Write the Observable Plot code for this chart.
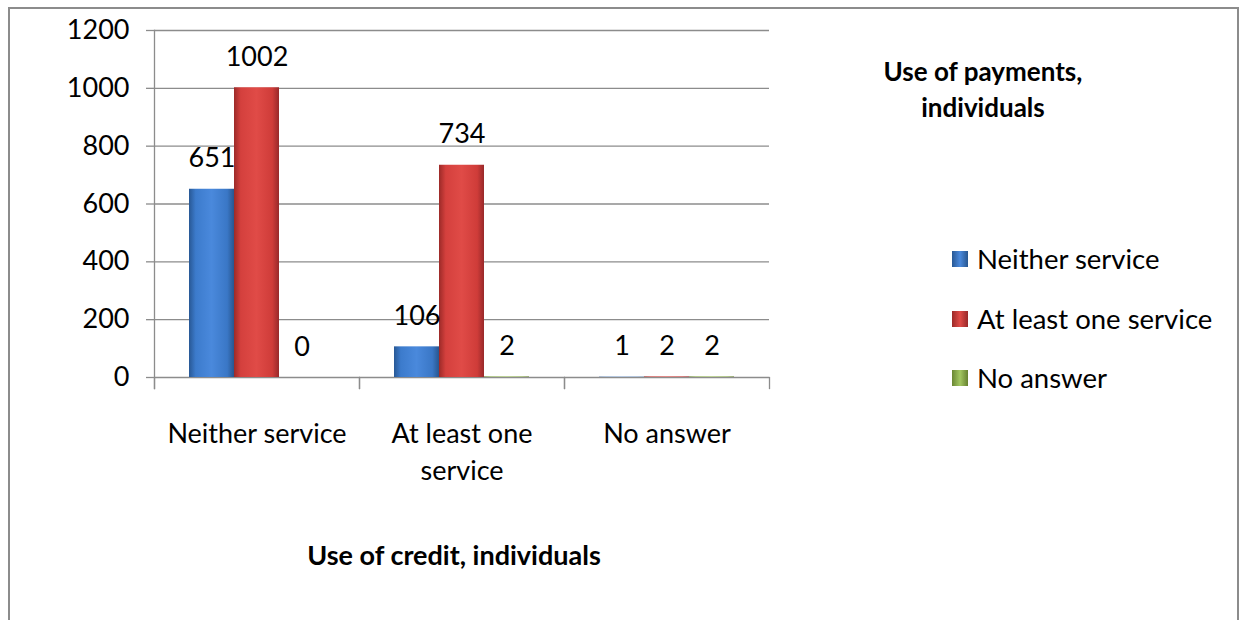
<!DOCTYPE html>
<html><head><meta charset="utf-8">
<script src="https://cdn.jsdelivr.net/npm/d3@7"></script>
<script src="https://cdn.jsdelivr.net/npm/@observablehq/plot@0.6"></script>
<style>
html,body{margin:0;padding:0;background:#fff;overflow:hidden;width:1245px;height:620px}
#wrap{position:relative;width:1245px;height:620px;font-family:Lato,sans-serif;color:#000}
#border{position:absolute;left:8px;top:7px;width:1231px;height:700px;border:2px solid #8c8c8c;box-sizing:border-box}
#chart{position:absolute;left:0;top:0}
#title{position:absolute;left:843px;width:280px;top:53px;text-align:center;font-weight:bold;font-size:26px;line-height:36px}
#xtitle{position:absolute;left:254px;width:400px;top:538px;text-align:center;font-weight:bold;font-size:27px;line-height:34px}
#legend{position:absolute;left:952px;top:241px}
.item{position:relative;height:36px;margin-bottom:23.5px;font-size:27.5px;line-height:36px;white-space:nowrap}
.sw{position:absolute;left:0;top:10px;width:16px;height:16px}
.lab{position:absolute;left:25px;top:0}
</style></head>
<body><div id="wrap"><div id="border"></div><div id="chart"></div>
<div id="title"></div><div id="xtitle"></div><div id="legend"></div></div>
<script>
// ---- data ----
const categories = ["Neither service", "At least one service", "No answer"];
const categoryLabels = ["Neither service", "At least one\nservice", "No answer"];
const series = ["Neither service", "At least one service", "No answer"];
const neitherValues = [651, 106, 1];
const atLeastOneValues = [1002, 734, 2];
const noAnswerValues = [0, 2, 2];
const yTicks = [0, 200, 400, 600, 800, 1000, 1200];
const titleText = ["Use of payments,", "individuals"];
const xTitleText = "Use of credit, individuals";

const seriesValues = [neitherValues, atLeastOneValues, noAnswerValues];
const gradIds = ["gBlue", "gRed", "gGreen"];
const gradStops = [
  ["#285895", "#3c7bcc", "#4a89dc", "#3a77c6", "#28568f"],
  ["#9c2a28", "#d4403d", "#e04b47", "#cf3c39", "#98292a"],
  ["#6a8733", "#93b752", "#a3c761", "#8fb24f", "#66812f"]
];
const rows = [];
categories.forEach((c, i) => series.forEach((s, j) => rows.push({category: c, series: s, value: seriesValues[j][i]})));
const labelOf = Object.fromEntries(categories.map((c, i) => [c, categoryLabels[i]]));

const grey = "#8c8c8c";
const plot = Plot.plot({
  width: 1245, height: 620,
  marginLeft: 153, marginRight: 475, marginTop: 30, marginBottom: 232,
  style: {fontFamily: "Lato, sans-serif", fontSize: "27px", color: "#000", background: "transparent", overflow: "visible"},
  fx: {domain: categories, paddingInner: 0, paddingOuter: 0, label: null},
  x: {domain: series, paddingInner: 0, paddingOuter: 0.74, axis: null},
  y: {domain: [0, 1200], insetBottom: 11},
  marks: [
    Plot.gridY(yTicks, {stroke: grey, strokeOpacity: 1, strokeWidth: 1.3}),
    Plot.frame({anchor: "left", facetAnchor: "left", stroke: grey, strokeWidth: 1.3}),
    Plot.frame({anchor: "left", insetTop: 347, stroke: grey, strokeWidth: 1.3}),
    Plot.frame({anchor: "right", insetTop: 347, stroke: grey, strokeWidth: 1.3}),
    Plot.axisY(yTicks, {tickSize: 8, tickPadding: 17, stroke: grey, strokeWidth: 1.3, label: null, fill: "#000", tickFormat: d => String(d)}),
    Plot.axisFx({anchor: "bottom", tickSize: 0, tickPadding: 29, lineHeight: 1.35, label: null, tickFormat: d => labelOf[d], fill: "#000"}),
    ...series.map((s, j) => Plot.barY(rows, {filter: d => d.series === s, fx: "category", x: "series", y: "value", fill: `url(#${gradIds[j]})`})),
    Plot.text(rows, {fx: "category", x: "series", y: "value", text: d => String(d.value), lineAnchor: "bottom", dy: -22, fill: "#000"})
  ]
});
const defs = d3.select(plot).insert("defs", ":first-child");
gradIds.forEach((id, j) => {
  const g = defs.append("linearGradient").attr("id", id).attr("x1", 0).attr("x2", 1).attr("y1", 0).attr("y2", 0);
  [0, 0.15, 0.5, 0.85, 1].forEach((o, k) => g.append("stop").attr("offset", o).attr("stop-color", gradStops[j][k]));
});
document.getElementById("chart").appendChild(plot);

document.getElementById("title").innerHTML = titleText.join("<br>");
document.getElementById("xtitle").textContent = xTitleText;
const legend = d3.select("#legend");
series.forEach((s, j) => {
  const it = legend.append("div").attr("class", "item");
  it.append("div").attr("class", "sw").style("background", `linear-gradient(to right, ${gradStops[j][0]}, ${gradStops[j][2]} 50%, ${gradStops[j][4]})`);
  it.append("div").attr("class", "lab").text(s);
});
</script></body></html>
